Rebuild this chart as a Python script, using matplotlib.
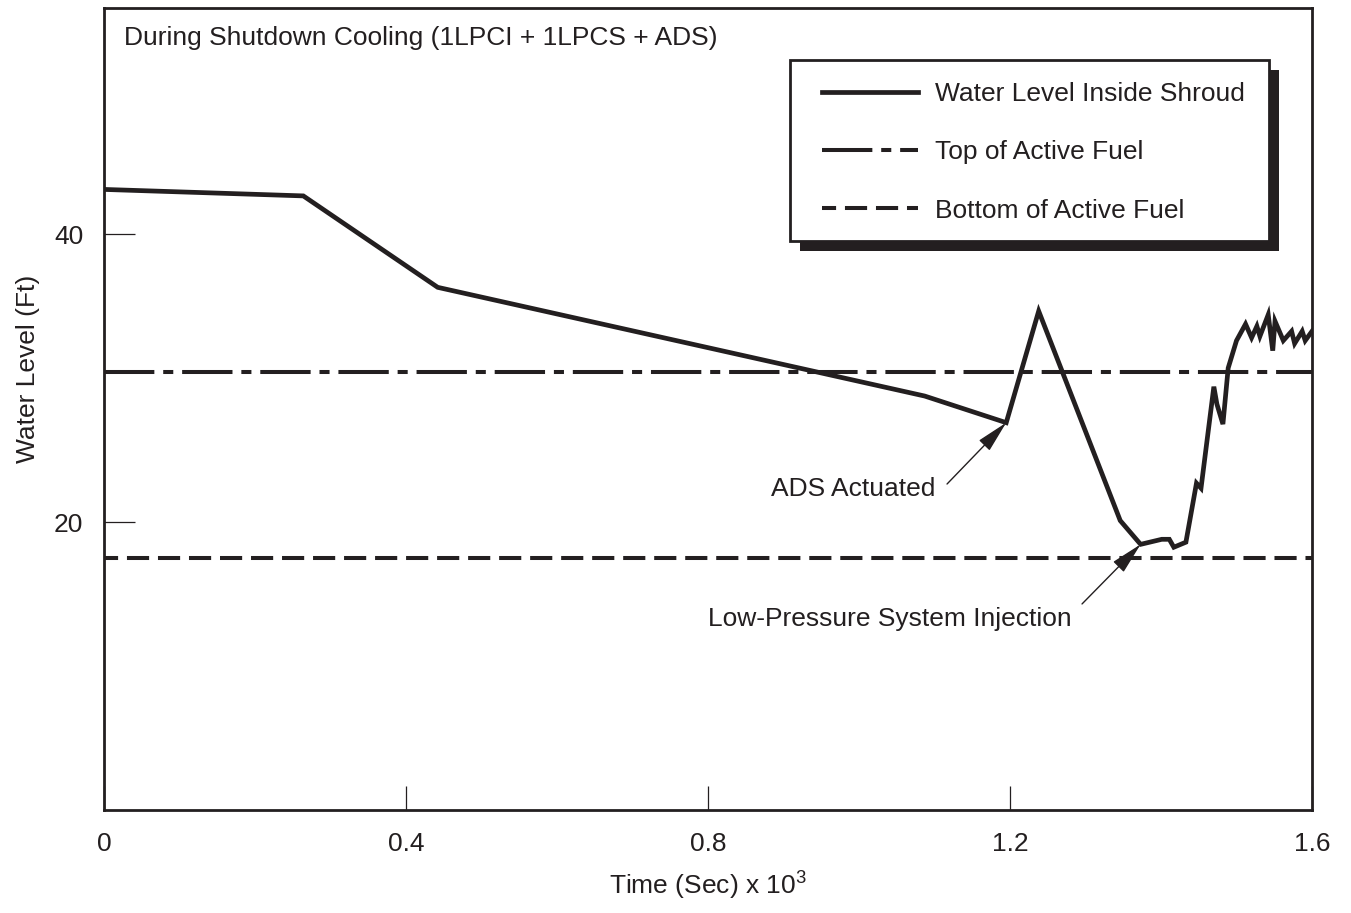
import matplotlib
matplotlib.use("Agg")
import matplotlib.pyplot as plt
from matplotlib.patches import Rectangle

plt.rcParams['font.family'] = ['Liberation Sans', 'DejaVu Sans']
plt.rcParams['mathtext.fontset'] = 'custom'
plt.rcParams['mathtext.rm'] = 'Liberation Sans'
plt.rcParams['mathtext.it'] = 'Liberation Sans'

INK = '#231f20'
FS = 19

# Data (time in 10^3 s, level in ft)
time_k = [0.0, 0.264, 0.442, 1.087, 1.195, 1.238, 1.346, 1.373, 1.401, 1.411,
          1.417, 1.433, 1.447, 1.453, 1.470, 1.474, 1.482, 1.489, 1.500, 1.512,
          1.520, 1.527, 1.531, 1.542, 1.548, 1.551, 1.562, 1.573, 1.577, 1.587,
          1.591, 1.600]
water_level = [43.1, 42.65, 36.3, 28.75, 26.9, 34.65, 20.1, 18.45, 18.8, 18.8,
               18.25, 18.6, 22.7, 22.35, 29.4, 28.2, 26.8, 30.7, 32.6, 33.75,
               32.8, 33.6, 32.9, 34.4, 31.9, 33.95, 32.6, 33.25, 32.4, 33.25,
               32.6, 33.25]
top_active_fuel = 30.4
bottom_active_fuel = 17.5

x_ticks = [0, 0.4, 0.8, 1.2, 1.6]
x_ticklabels = ['0', '0.4', '0.8', '1.2', '1.6']
y_ticks = [20, 40]
y_ticklabels = ['20', '40']

W, H = 1351, 913
fig = plt.figure(figsize=(W / 100, H / 100), dpi=100)
AX_L, AX_R, AX_T, AX_B = 104, 1312, 8, 810
ax = fig.add_axes([AX_L / W, 1 - AX_B / H, (AX_R - AX_L) / W, (AX_B - AX_T) / H])


def px2ax(px, py):
    return ((px - AX_L) / (AX_R - AX_L), (AX_B - py) / (AX_B - AX_T))


ax.plot(time_k, water_level, color=INK, lw=3.4, solid_joinstyle='miter',
        label='Water Level Inside Shroud', zorder=3)
ax.axhline(top_active_fuel, color=INK, lw=2.9, linestyle=(0, (12.5, 2.2, 2.5, 2.2)),
           label='Top of Active Fuel', zorder=2)
ax.axhline(bottom_active_fuel, color=INK, lw=2.9, linestyle=(2, (5.5, 2.2)),
           label='Bottom of Active Fuel', zorder=2)

ax.set_xlim(0, 1.6)
ax.set_ylim(0, 55.7)
ax.set_xticks(x_ticks)
ax.set_xticklabels(x_ticklabels)
ax.set_yticks(y_ticks)
ax.set_yticklabels(y_ticklabels)
ax.tick_params(axis='both', direction='in', labelsize=FS, colors=INK, width=0.9)
ax.tick_params(axis='y', length=22, pad=15)
ax.tick_params(axis='x', length=17, pad=16)
for s in ax.spines.values():
    s.set_linewidth(2.0)
    s.set_color(INK)

ax.text(-0.0625, 0.55, 'Water Level (Ft)', rotation=90, ha='center', va='center',
        fontsize=FS, color=INK, transform=ax.transAxes)
fig.text(708 / W, 1 - 886 / H, r'Time (Sec) x 10$^{3}$', ha='center', va='center',
         fontsize=FS, color=INK)
ax.text(*px2ax(124, 38), 'During Shutdown Cooling (1LPCI + 1LPCS + ADS)',
        ha='left', va='center', fontsize=FS, color=INK, transform=ax.transAxes)

# Annotations
arrow = dict(arrowstyle='-|>,head_length=1.05,head_width=0.24', color=INK, lw=1.0,
             shrinkA=0, shrinkB=0, mutation_scale=FS)
ax.text(0.992, 22.29, 'ADS Actuated', ha='center', va='center', fontsize=FS, color=INK)
ax.annotate('', xy=(time_k[4], water_level[4]), xytext=(1.1166, 22.64),
            arrowprops=arrow, annotation_clip=False)
ax.text(1.041, 13.26, 'Low-Pressure System Injection', ha='center', va='center',
        fontsize=FS, color=INK)
ax.annotate('', xy=(time_k[7], water_level[7]), xytext=(1.2954, 14.31),
            arrowprops=arrow, annotation_clip=False)

# Legend box with solid offset shadow
bx0, by0 = px2ax(790, 241)
bx1, by1 = px2ax(1269, 60)
sx0, sy0 = px2ax(800, 251)
ax.add_patch(Rectangle((sx0, sy0), bx1 - bx0, by1 - by0, transform=ax.transAxes,
                       facecolor=INK, edgecolor='none', zorder=4.8))
ax.add_patch(Rectangle((bx0, by0), bx1 - bx0, by1 - by0, transform=ax.transAxes,
                       facecolor='white', edgecolor=INK, lw=2.0, zorder=4.9))
leg = ax.legend(loc='upper left', bbox_to_anchor=px2ax(822, 82),
                borderaxespad=0, borderpad=0, fontsize=FS, frameon=False,
                handlelength=3.64, handletextpad=0.64, labelspacing=1.3)
leg.set_zorder(5)
for t in leg.get_texts():
    t.set_color(INK)

fig.savefig('out.png', dpi=100)
